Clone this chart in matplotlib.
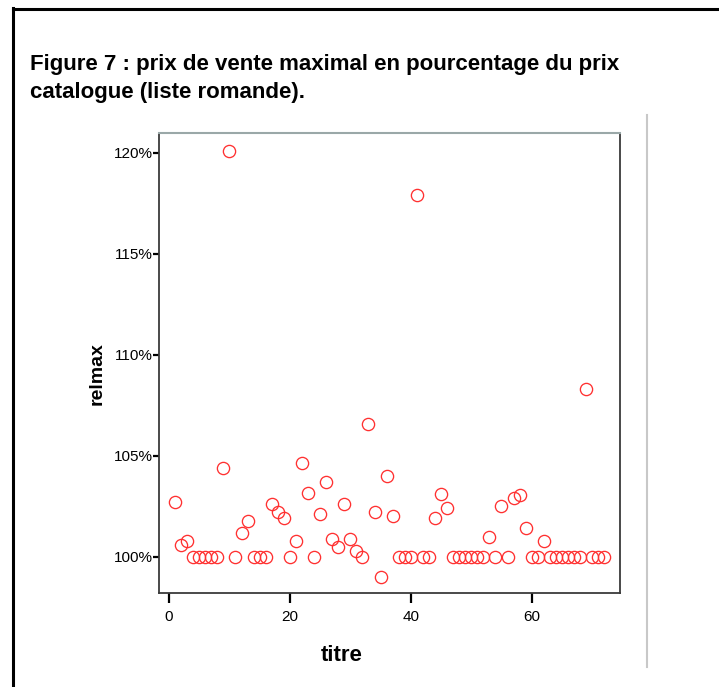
import matplotlib
matplotlib.use('Agg')
import matplotlib.pyplot as plt
from matplotlib.ticker import FuncFormatter
from matplotlib.lines import Line2D

plt.rcParams['font.family'] = ['Liberation Sans', 'DejaVu Sans']

# titre number and max selling price as % of catalogue price
titre = list(range(1, 73))
relmax = [102.7, 100.6, 100.8, 100, 100, 100, 100, 100, 104.4, 120.1,
          100, 101.2, 101.75, 100, 100, 100, 102.6, 102.2, 101.9, 100,
          100.8, 104.65, 103.15, 100, 102.1, 103.7, 100.9, 100.5, 102.6, 100.9,
          100.3, 100, 106.55, 102.2, 99.0, 104.0, 102.0, 100, 100, 100,
          117.9, 100, 100, 101.9, 103.1, 102.4, 100, 100, 100, 100,
          100, 100, 101.0, 100, 102.5, 100, 102.9, 103.05, 101.4, 100,
          100, 100.8, 100, 100, 100, 100, 100, 100, 108.3, 100,
          100, 100]

xticks = [0, 20, 40, 60]
yticks = [100, 105, 110, 115, 120]
title = "Figure 7 : prix de vente maximal en pourcentage du prix\ncatalogue (liste romande)."

fig = plt.figure(figsize=(7.19, 6.87), dpi=100)
ax = fig.add_axes([0.2207, 0.1364, 0.6416, 0.6704])

ax.plot(titre, relmax, 'o', mfc='none', mec='#ff3030', ms=8.8, mew=0.95)

ax.set_xlim(-1.7, 74.6)
ax.set_ylim(98.19, 121.0)
ax.set_xticks(xticks)
ax.set_yticks(yticks)
ax.yaxis.set_major_formatter(FuncFormatter(lambda v, p: '%d%%' % v))
ax.tick_params(axis='x', direction='out', length=7, width=1.6, pad=5, labelsize=11)
ax.tick_params(axis='y', direction='out', length=4, width=1.6, pad=0, labelsize=11)

for s in ['left', 'bottom', 'right']:
    ax.spines[s].set_color('#3a3a3a')
    ax.spines[s].set_linewidth(1.3)
ax.spines['top'].set_color('#9aa8a8')
ax.spines['top'].set_linewidth(1.5)

ax.set_xlabel('titre', fontsize=16, fontweight='bold')
ax.set_ylabel('relmax', fontsize=14, fontweight='bold')
ax.xaxis.set_label_coords(0.397, -0.112)
ax.yaxis.set_label_coords(-0.114, 0.478)

fig.text(30 / 719, 1 - 54 / 687, title, fontsize=16, fontweight='bold',
         va='top', ha='left', linespacing=1.45)

# page frame
fig.add_artist(Line2D([12.5 / 719, 12.5 / 719], [0, 1 - 8 / 687], color='black', lw=2.2))
fig.add_artist(Line2D([12.5 / 719, 1], [1 - 8.5 / 687, 1 - 8.5 / 687], color='black', lw=2.2))
fig.add_artist(Line2D([646.5 / 719, 646.5 / 719], [1 - 115 / 687, 1 - 667 / 687], color='#c8c8c8', lw=1.5))

fig.savefig('out.png', dpi=100)
